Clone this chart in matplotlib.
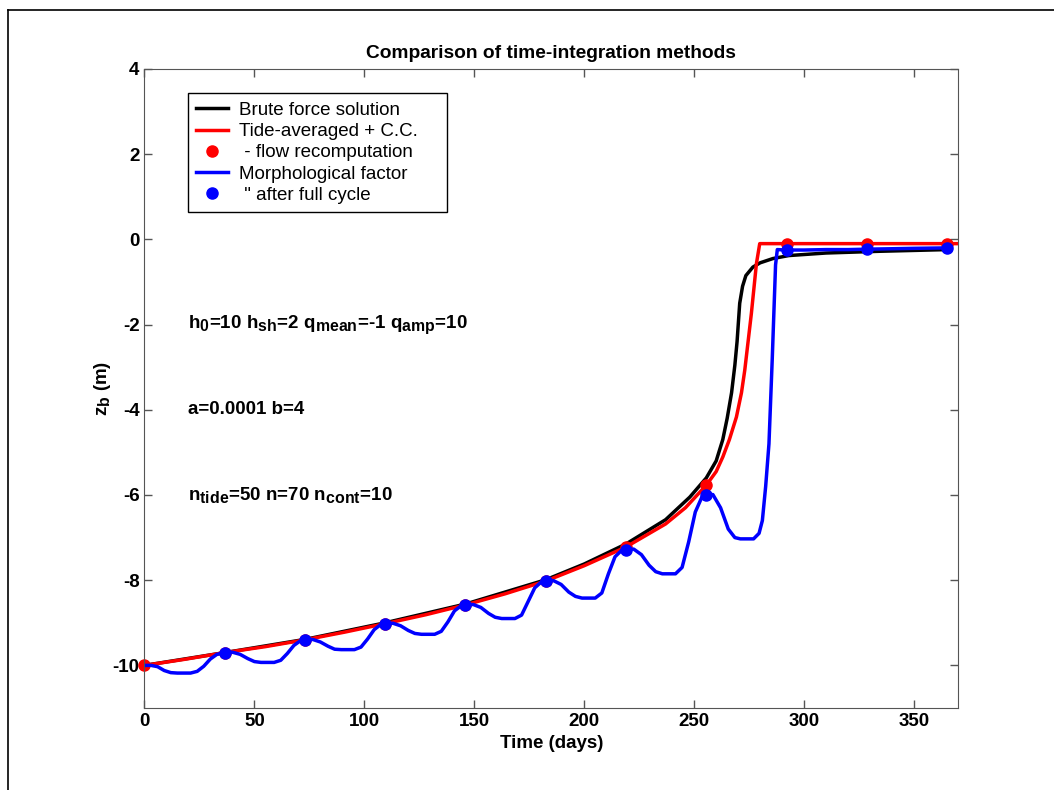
import matplotlib
matplotlib.use("Agg")
import matplotlib.pyplot as plt
import matplotlib._mathtext as mathtext_impl
from matplotlib.lines import Line2D

plt.rcParams['font.family'] = ['Liberation Sans', 'DejaVu Sans']
plt.rcParams['axes.unicode_minus'] = False
plt.rcParams['mathtext.fontset'] = 'custom'
plt.rcParams['mathtext.rm'] = 'Liberation Sans:bold'
plt.rcParams['mathtext.bf'] = 'Liberation Sans:bold'
plt.rcParams['mathtext.it'] = 'Liberation Sans:bold'
plt.rcParams['mathtext.default'] = 'bf'
# subscripts in the original are only slightly smaller than the text
mathtext_impl.SHRINK_FACTOR = 0.85

# brute force solution
t_brute = [0, 36.5, 73, 109.5, 146, 182.5, 200, 219, 237, 248, 255.5, 260, 263,
           265, 267, 268.5, 269.5, 270.7, 272, 273.5, 276.7, 280, 285.8, 293,
           310, 334, 365]
z_brute = [-10, -9.7, -9.39, -9.0, -8.56, -7.99, -7.62, -7.15, -6.58, -6.05,
           -5.6, -5.2, -4.7, -4.2, -3.6, -2.95, -2.4, -1.5, -1.1, -0.85, -0.65,
           -0.55, -0.45, -0.38, -0.32, -0.28, -0.24]

# tide-averaged + continuity correction
t_tide = [0, 18, 36.5, 55, 73, 91, 109.5, 128, 146, 164, 182.5, 200, 219, 237,
          246, 255.5, 260, 263, 266, 269.2, 271.5, 273, 276, 278.3, 279.8, 370]
z_tide = [-10, -9.86, -9.7, -9.56, -9.4, -9.22, -9.02, -8.81, -8.58, -8.32,
          -8.02, -7.66, -7.22, -6.68, -6.3, -5.77, -5.45, -5.11, -4.7, -4.17,
          -3.6, -3.07, -1.74, -0.57, -0.1, -0.1]

# flow recomputation points
t_recomp = [0, 36.5, 73, 109.5, 146, 182.5, 219, 255.5, 292, 328.5, 365]
z_recomp = [-10, -9.7, -9.4, -9.02, -8.58, -8.02, -7.22, -5.77, -0.1, -0.1, -0.1]

# morphological factor
t_morf = [0, 3, 6, 9, 12, 15, 21, 24, 27, 30, 33, 36.5,
          40, 43.5, 47, 50, 53, 59, 62, 65, 68, 71, 73,
          76.5, 80, 83.5, 86.5, 89.5, 95.5, 98.5, 101.5, 104.5, 107.5, 109.5,
          113, 116.5, 120, 123, 126, 132, 135, 138, 141, 144, 146,
          149.5, 153, 156.5, 159.5, 162.5, 168.5, 171.5, 174.5, 177.5, 180.5, 182.5,
          186, 189.5, 193, 196, 199, 205, 208, 211, 214, 217, 219,
          222.5, 226, 229.5, 232.5, 235.5, 241.5, 244.5, 247.5, 250.5, 253.5, 255.5,
          258.5, 262, 265.5, 268.5, 271, 277, 279.5, 281, 282.5, 284, 285.5, 287,
          287.8, 292, 300, 310, 320, 328.5, 340, 350, 365]
z_morf = [-10.0, -10.0, -10.03, -10.12, -10.17, -10.18, -10.18, -10.14, -10.02, -9.85, -9.74, -9.7,
          -9.69, -9.74, -9.84, -9.91, -9.93, -9.93, -9.88, -9.72, -9.53, -9.42, -9.4,
          -9.39, -9.45, -9.55, -9.62, -9.63, -9.63, -9.57, -9.38, -9.16, -9.04, -9.02,
          -9.01, -9.07, -9.18, -9.25, -9.27, -9.27, -9.2, -8.98, -8.72, -8.6, -8.58,
          -8.57, -8.64, -8.78, -8.87, -8.9, -8.9, -8.82, -8.5, -8.18, -8.04, -8.02,
          -8.01, -8.1, -8.28, -8.38, -8.42, -8.42, -8.3, -7.85, -7.45, -7.3, -7.28,
          -7.27, -7.4, -7.65, -7.8, -7.85, -7.85, -7.7, -7.1, -6.4, -6.05, -6.0,
          -5.99, -6.3, -6.8, -7.0, -7.03, -7.03, -6.9, -6.6, -5.8, -4.8, -2.8, -0.6,
          -0.24, -0.25, -0.25, -0.24, -0.24, -0.23, -0.22, -0.21, -0.2]

# morphological factor, after full cycle
t_cycle = [36.5, 73, 109.5, 146, 182.5, 219, 255.5, 292, 328.5, 365]
z_cycle = [-9.7, -9.4, -9.02, -8.58, -8.02, -7.28, -6.0, -0.25, -0.23, -0.2]

fig = plt.figure(figsize=(10.54, 7.9), dpi=100)
ax = fig.add_axes([0.137, 0.1038, 0.772, 0.8089])

ax.plot(t_brute, z_brute, color='black', lw=2.5, label='Brute force solution')
ax.plot(t_tide, z_tide, color='#ff0000', lw=2.5, label='Tide-averaged + C.C.')
ax.plot(t_recomp, z_recomp, 'o', color='#ff0000', ms=8, clip_on=False,
        label=' - flow recomputation')
ax.plot(t_morf, z_morf, color='#0000ff', lw=2.5, label='Morphological factor')
ax.plot(t_cycle, z_cycle, 'o', color='#0000ff', ms=8, clip_on=False,
        label=' " after full cycle')

ax.set_xlim(0, 370)
ax.set_ylim(-11, 4)
ax.set_xticks([0, 50, 100, 150, 200, 250, 300, 350])
ax.set_yticks([-10, -8, -6, -4, -2, 0, 2, 4])
ax.tick_params(direction='in', length=6, width=1, top=True, right=True,
               labelsize=13.5, color='#555555')
for lbl in ax.get_xticklabels() + ax.get_yticklabels():
    lbl.set_fontweight('bold')
for sp in ax.spines.values():
    sp.set_color('#555555')

ax.set_title('Comparison of time-integration methods', fontsize=13.8,
             fontweight='bold', pad=8)
ax.set_xlabel('Time (days)', fontsize=13.5, fontweight='bold', labelpad=4)
ax.set_ylabel('z$_b$ (m)', fontsize=13.5, fontweight='bold', labelpad=0)

ax.text(20, -2, 'h$_0$=10 h$_{sh}$=2 q$_{mean}$=-1 q$_{amp}$=10',
        fontsize=13.5, fontweight='bold', va='center')
ax.text(20, -4, 'a=0.0001 b=4', fontsize=13.5, fontweight='bold', va='center')
ax.text(20, -6, 'n$_{tide}$=50 n=70 n$_{cont}$=10', fontsize=13.5,
        fontweight='bold', va='center')

leg = ax.legend(loc='upper left', bbox_to_anchor=(0.053, 0.962),
                borderaxespad=0, fontsize=13.5, fancybox=False, framealpha=1,
                edgecolor='black', handlelength=1.7, handletextpad=0.6,
                labelspacing=0.22, borderpad=0.45)
leg.get_frame().set_linewidth(1.0)
leg.get_texts()[1].set_text('Tide-averaged + C.C.    ')

# page frame around the figure
fig.add_artist(Line2D([8 / 1054, 8 / 1054], [0, 1 - 10 / 790],
                      transform=fig.transFigure, color='black', lw=1.2))
fig.add_artist(Line2D([8 / 1054, 1], [1 - 10 / 790, 1 - 10 / 790],
                      transform=fig.transFigure, color='black', lw=1.2))

fig.savefig('out.png', dpi=100)
